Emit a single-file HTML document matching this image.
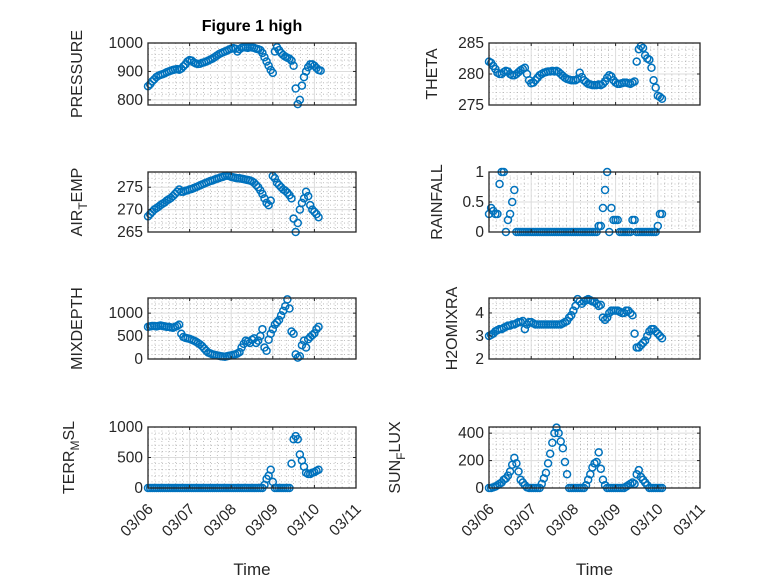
<!DOCTYPE html>
<html><head><meta charset="utf-8"><style>
html,body{margin:0;padding:0;background:#fff;}
svg{display:block;font-family:"Liberation Sans","DejaVu Sans",sans-serif;}
</style></head><body>
<svg id="fig" width="778" height="583" viewBox="0 0 778 583">
<rect x="0" y="0" width="778" height="583" fill="#fff"/>
<text x="252" y="31" text-anchor="middle" font-size="16" font-weight="bold" fill="#000">Figure 1 high</text>
</svg>
<script>
const xTickLabels = ["03/06","03/07","03/08","03/09","03/10","03/11"];
const timeStep = 0.05;
const pressure = [848,855,865,872,880,885,888,890,893,897,900, 903,905,907,908,906,910,918,925,935,940, 938,932,928,926,927,930,932,935,938,942, 945,950,955,960,964,967,970,973,977,980, 982,980,970,978,983,985,984,983,985,984, 983,980,978,975,965,950,935,920,905,895,970, 985,975,965,958,952,948,945,938,920,840, 785,800,850,880,900,915,925,925,920,912,905,903];
const airTemp = [268.5,269,269.5,270,270.3,270.6,271,271.3,271.6,272,272.3, 272.6,273,273.5,274,274.5,274,274,274.2,274.3,274.5, 274.6,274.8,275,275.2,275.4,275.6,275.8,276,276.2,276.4, 276.5,276.7,276.9,277,277.2,277.3,277.5,277.6,277.5,277.3, 277.2,277.1,277,277,276.9,276.8,276.7,276.6,276.5,276.3, 276,275.5,275,274.3,273.5,272.5,271.5,271,272,277.5, 277,276,275.5,275,274.5,274.2,273.8,273.2,272.5,268, 265,267,270,271.5,272.5,274,273,271,270,269.5,269,268.3];
const theta = [282,281.8,281.3,280.8,280.2,280,280,280.3,280.5,280.4,280, 279.8,279.8,280,280.3,280.6,280.8,281,280,279,278.5, 278.6,279,279.4,279.8,280,280.2,280.3,280.4,280.4,280.5, 280.4,280.5,280.3,280,279.7,279.4,279.2,279.1,279,279, 279,279.2,280.2,279.5,279,278.7,278.4,278.3,278.2,278.2, 278.2,278.3,278.2,278.4,278.8,279.4,279.8,279.6,279,278.6, 278.4,278.4,278.5,278.6,278.6,278.5,278.4,278.6,278.8,282, 284,284.5,284.2,283,282.5,282.3,281,279,277.8,276.5,276.3,276];
const rainfall = [0.3,0.4,0.35,0.3,0.3,0.8,1,1,0,0.2,0.3, 0.5,0.7,0,0,0,0,0,0,0,0, 0,0,0,0,0,0,0,0,0,0, 0,0,0,0,0,0,0,0,0,0, 0,0,0,0,0,0,0,0,0,0, 0,0.1,0.1,0.4,0.7,1,0,0.4,0.2,0.2, 0.2,0,0,0,0,0,0,0.2,0.2,0, 0,0,0,0,0,0,0,0,0,0.1,0.3,0.3];
const mixDepth = [700,710,720,720,710,720,730,720,710,700,700, 690,680,700,720,750,550,480,460,450,440, 420,400,380,350,320,280,230,180,140,120, 100,90,80,70,60,55,50,60,70,80, 90,100,120,150,250,330,400,380,350,420, 450,350,400,500,650,250,180,420,550,650, 750,800,850,950,1050,1150,1300,1100,600,550, 100,30,60,300,400,250,430,480,520,560,650,700];
const h2oMix = [3.0,3.05,3.1,3.2,3.25,3.3,3.3,3.35,3.4,3.45,3.45, 3.5,3.5,3.55,3.6,3.6,3.65,3.3,3.5,3.6,3.6, 3.55,3.5,3.5,3.5,3.5,3.5,3.5,3.5,3.5,3.5, 3.5,3.5,3.5,3.5,3.55,3.6,3.65,3.8,3.9,4.1, 4.3,4.6,4.5,4.4,4.5,4.55,4.6,4.55,4.5,4.5, 4.4,4.3,4.35,3.8,3.7,3.8,4.0,4.1,4.1,4.1, 4.1,4.05,4.0,4.0,4.1,4.1,4.0,3.9,3.1,2.5, 2.5,2.6,2.7,2.8,3.0,3.2,3.3,3.3,3.2,3.1,3.0,2.9];
const terrMsl = [0,0,0,0,0,0,0,0,0,0,0, 0,0,0,0,0,0,0,0,0,0, 0,0,0,0,0,0,0,0,0,0, 0,0,0,0,0,0,0,0,0,0, 0,0,0,0,0,0,0,0,0,0, 0,0,0,0,0,50,150,200,300,100, 0,0,0,0,0,0,0,0,400,800, 850,800,550,450,350,250,230,230,250,260,280,300];
const sunFlux = [0,0,5,10,20,30,40,60,70,90,120, 170,220,180,120,60,40,20,5,0,0, 0,0,0,0,30,70,110,180,250,330, 400,440,400,340,290,190,100,0,0,0, 0,0,0,0,0,20,60,100,150,180, 190,260,140,60,20,0,0,0,0,0, 0,0,0,0,10,20,30,40,30,100, 130,80,60,40,20,0,0,0,0,0,0,0];
const pressureTicks = [800,900,1000];
const airTempTicks = [265,270,275];
const thetaTicks = [275,280,285];
const rainTicks = [0,0.5,1];
const mixTicks = [0,500,1000];
const h2oTicks = [2,3,4];
const terrTicks = [0,500,1000];
const sunTicks = [0,200,400];

const NS = "http://www.w3.org/2000/svg";
const svg = document.getElementById('fig');
function mk(tag, attrs, parent){const e=document.createElementNS(NS,tag);for(const k in attrs)e.setAttribute(k,attrs[k]);(parent||svg).appendChild(e);return e;}

const cols = [{x0:148,x1:356},{x0:489,x1:700}];
const rows = [{y0:43,y1:105},{y0:172,y1:232},{y0:298,y1:359},{y0:427,y1:488}];

const panels = [
 {name:'pressure',c:0,r:0,data:pressure,ylim:[782,1000],ticks:pressureTicks,minor:20,label:['PRESSURE'],lx:82},
 {name:'theta',c:1,r:0,data:theta,ylim:[275,285],ticks:thetaTicks,minor:1,label:['THETA'],lx:437},
 {name:'air-temp',c:0,r:1,data:airTemp,ylim:[265,278.4],ticks:airTempTicks,minor:1,label:['AIR','T','EMP'],lx:82},
 {name:'rainfall',c:1,r:1,data:rainfall,ylim:[0,1],ticks:rainTicks,minor:0.1,label:['RAINFALL'],lx:442},
 {name:'mixdepth',c:0,r:2,data:mixDepth,ylim:[0,1330],ticks:mixTicks,minor:100,label:['MIXDEPTH'],lx:82},
 {name:'h2omixra',c:1,r:2,data:h2oMix,ylim:[2,4.65],ticks:h2oTicks,minor:0.2,label:['H2OMIXRA'],lx:457},
 {name:'terr-msl',c:0,r:3,data:terrMsl,ylim:[0,1000],ticks:terrTicks,minor:100,label:['TERR','M','SL'],lx:74},
 {name:'sun-flux',c:1,r:3,data:sunFlux,ylim:[0,445],ticks:sunTicks,minor:40,label:['SUN','F','LUX'],lx:400}
];

panels.forEach(p=>{
  const X0=cols[p.c].x0, X1=cols[p.c].x1, Y0=rows[p.r].y0, Y1=rows[p.r].y1;
  const xs = t => X0 + (t/5)*(X1-X0);
  const ys = v => Y1 - (v-p.ylim[0])/(p.ylim[1]-p.ylim[0])*(Y1-Y0);
  const g = mk('g',{});
  
  
  mk('rect',{x:X0,y:Y0,width:X1-X0,height:Y1-Y0,fill:'#fff'},g);
  for(let k=0;k<=30;k++){ if(k%6===0) continue; const x=xs(k/6);
    mk('line',{x1:x,x2:x,y1:Y0,y2:Y1,stroke:'#b0b0b0','stroke-width':0.8,'stroke-dasharray':'1,2.5'},g);}
  const startM=Math.ceil(p.ylim[0]/p.minor);
  for(let k=startM;k*p.minor<=p.ylim[1]+1e-9;k++){ const v=k*p.minor; if(p.ticks.some(t=>Math.abs(t-v)<1e-9)) continue; const y=ys(v);
    mk('line',{x1:X0,x2:X1,y1:y,y2:y,stroke:'#b0b0b0','stroke-width':0.8,'stroke-dasharray':'1,2.5'},g);}
  for(let k=1;k<5;k++){const x=xs(k);mk('line',{x1:x,x2:x,y1:Y0,y2:Y1,stroke:'#dcdcdc','stroke-width':1},g);}
  p.ticks.forEach(v=>{const y=ys(v);mk('line',{x1:X0,x2:X1,y1:y,y2:y,stroke:'#dcdcdc','stroke-width':1},g);});
  const sg = mk('g',{},g);
  
  
  p.data.forEach((v,i)=>{
    const c = mk('circle',{cx:xs(i*timeStep),cy:ys(v),r:3.5,fill:'none',stroke:'#0072BD','stroke-width':1.5},sg);
    
    
  });
  mk('rect',{x:X0,y:Y0,width:X1-X0,height:Y1-Y0,fill:'none',stroke:'#262626','stroke-width':1.3},g);
  for(let k=0;k<=5;k++){const x=xs(k);
    mk('line',{x1:x,x2:x,y1:Y1,y2:Y1-3,stroke:'#262626','stroke-width':1},g);
    mk('line',{x1:x,x2:x,y1:Y0,y2:Y0+3,stroke:'#262626','stroke-width':1},g);}
  p.ticks.forEach(v=>{const y=ys(v);
    mk('line',{x1:X0,x2:X0+3,y1:y,y2:y,stroke:'#262626','stroke-width':1},g);
    mk('line',{x1:X1,x2:X1-3,y1:y,y2:y,stroke:'#262626','stroke-width':1},g);
    const t=mk('text',{x:X0-5,y:y+5,'text-anchor':'end','font-size':15.5,fill:'#262626'},g);
    t.textContent=String(v);
    
    
  });
  const yc=(Y0+Y1)/2;
  const lab=mk('text',{x:0,y:0,'text-anchor':'middle','font-size':16,fill:'#262626',transform:`translate(${p.lx},${yc}) rotate(-90)`},g);
  
  
  if(p.label.length===1){lab.textContent=p.label[0];}
  else{
    const a=mk('tspan',{},lab);a.textContent=p.label[0];
    const b=mk('tspan',{'font-size':12,dy:5},lab);b.textContent=p.label[1];
    const c=mk('tspan',{dy:-5},lab);c.textContent=p.label[2];
  }
  if(p.r===3){
    xTickLabels.forEach((s,k)=>{const x=xs(k);
      const t=mk('text',{x:0,y:0,'text-anchor':'end','font-size':15.5,fill:'#262626',transform:`translate(${x+6},${Y1+22}) rotate(-45)`},g);
      t.textContent=s;
      
      
    });
    const tl=mk('text',{x:(X0+X1)/2,y:575,'text-anchor':'middle','font-size':17,fill:'#262626'},g);
    tl.textContent='Time';
    
    
  }
});
</script>
</body></html>
